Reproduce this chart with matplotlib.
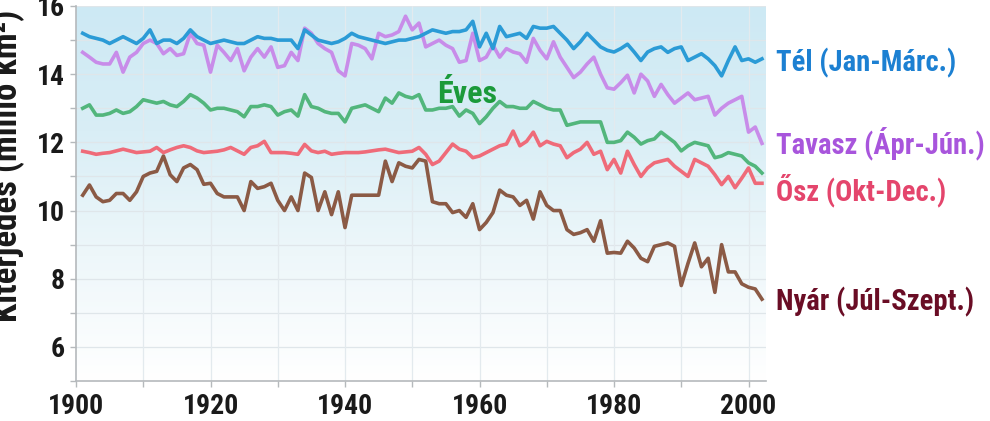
import numpy as np
import matplotlib
matplotlib.use("Agg")
import matplotlib.pyplot as plt
import matplotlib.font_manager as fm
from matplotlib.colors import LinearSegmentedColormap

years = np.arange(1901, 2003)

winter = [15.2, 15.1, 15.05, 15.0, 14.9, 15.0, 15.1, 15.0, 14.9, 15.05,
          15.3, 14.9, 15.0, 15.0, 14.9, 15.05, 15.3, 15.1, 15.0, 14.9,
          14.95, 15.0, 14.95, 14.9, 14.9, 15.0, 15.1, 15.05, 15.05, 15.0,
          15.0, 15.0, 14.75, 15.3, 15.15, 15.0, 14.95, 14.9, 14.95, 15.05,
          15.2, 15.1, 15.05, 15.0, 14.95, 14.9, 14.95, 15.0, 15.0, 15.05,
          15.1, 15.2, 15.3, 15.25, 15.2, 15.25, 15.25, 15.3, 15.55, 14.8,
          15.2, 14.75, 15.4, 15.1, 15.15, 15.2, 15.05, 15.4, 15.35, 15.35,
          15.4, 15.2, 15.0, 14.75, 14.95, 15.2, 15.0, 14.8, 14.7, 14.65,
          14.75, 14.88, 14.65, 14.4, 14.65, 14.75, 14.8, 14.64, 14.75, 14.8,
          14.4, 14.5, 14.6, 14.45, 14.25, 13.95, 14.4, 14.8, 14.4, 14.45,
          14.35, 14.45]

spring = [14.64, 14.5, 14.35, 14.3, 14.3, 14.64, 14.06, 14.5, 14.64, 14.9,
          15.0, 14.9, 14.6, 14.75, 14.55, 14.6, 15.2, 14.9, 14.85, 14.06,
          14.85, 14.64, 14.4, 14.75, 14.1, 14.5, 14.75, 14.5, 14.8, 14.2,
          14.25, 14.64, 14.4, 15.35, 15.2, 14.9, 14.75, 14.64, 14.1, 13.95,
          14.9, 14.85, 14.75, 14.45, 15.2, 15.1, 15.15, 15.25, 15.7, 15.3,
          15.5, 14.8, 14.9, 15.0, 14.85, 14.75, 14.35, 14.4, 15.2, 14.4,
          14.5, 14.85, 14.5, 14.75, 14.65, 14.6, 14.35, 15.05, 14.7, 14.45,
          14.95, 14.5, 14.2, 13.9, 14.06, 14.3, 14.5, 14.0, 13.6, 13.56,
          13.75, 13.97, 13.45, 14.0, 13.8, 13.35, 13.7, 13.4, 13.15, 13.3,
          13.45, 13.25, 13.3, 13.35, 12.8, 13.0, 13.15, 13.25, 13.35, 12.3,
          12.45, 11.97]

annual = [13.0, 13.1, 12.8, 12.8, 12.85, 12.95, 12.85, 12.9, 13.05, 13.25,
          13.2, 13.15, 13.2, 13.1, 13.05, 13.2, 13.4, 13.3, 13.15, 12.95,
          13.0, 13.0, 12.95, 12.9, 12.75, 13.05, 13.05, 13.1, 13.05, 12.8,
          12.9, 12.95, 12.77, 13.4, 13.05, 13.0, 12.9, 12.85, 12.85, 12.6,
          13.0, 13.05, 13.1, 13.0, 12.9, 13.3, 13.15, 13.45, 13.35, 13.3,
          13.4, 12.95, 12.95, 13.0, 13.0, 13.05, 12.77, 12.95, 12.85, 12.55,
          12.75, 13.0, 13.2, 13.05, 13.05, 13.0, 13.0, 13.2, 13.1, 13.0,
          12.95, 12.95, 12.5, 12.55, 12.6, 12.6, 12.6, 12.6, 12.0, 12.0,
          12.05, 12.3, 12.15, 11.95, 12.05, 12.1, 12.3, 12.15, 12.0, 11.75,
          11.9, 12.0, 11.95, 11.9, 11.55, 11.6, 11.7, 11.65, 11.6, 11.4,
          11.3, 11.1]

autumn = [11.74, 11.7, 11.65, 11.68, 11.7, 11.75, 11.8, 11.75, 11.7, 11.72,
          11.74, 11.85, 11.7, 11.78, 11.85, 11.9, 11.85, 11.75, 11.7, 11.72,
          11.74, 11.78, 11.85, 11.75, 11.65, 11.85, 11.9, 12.03, 11.7, 11.7,
          11.7, 11.68, 11.65, 11.94, 11.75, 11.7, 11.74, 11.65, 11.68, 11.7,
          11.7, 11.7, 11.72, 11.75, 11.78, 11.8, 11.75, 11.7, 11.72, 11.74,
          11.85, 11.65, 11.35, 11.45, 11.7, 11.95, 11.8, 11.74, 11.55, 11.6,
          11.7, 11.8, 11.9, 11.95, 12.33, 11.9, 12.03, 12.3, 11.9, 12.03,
          11.95, 11.9, 11.55, 11.7, 11.8, 12.0, 11.65, 11.74, 11.2, 11.5,
          11.1, 11.74, 11.35, 11.0, 11.25, 11.4, 11.45, 11.5, 11.3, 11.15,
          11.0, 11.5, 11.4, 11.3, 11.05, 10.76, 11.0, 10.67, 10.95, 11.25,
          10.8, 10.8]

summer = [10.45, 10.75, 10.4, 10.26, 10.3, 10.5, 10.5, 10.3, 10.55, 11.0,
          11.1, 11.15, 11.6, 11.05, 10.85, 11.25, 11.35, 11.2, 10.77, 10.8,
          10.5, 10.4, 10.4, 10.4, 10.0, 10.85, 10.65, 10.7, 10.8, 10.3,
          10.0, 10.4, 10.0, 11.1, 10.97, 10.0, 10.55, 9.88, 10.55, 9.5,
          10.45, 10.45, 10.45, 10.45, 10.45, 11.45, 10.85, 11.4, 11.3, 11.25,
          11.5, 11.45, 10.26, 10.2, 10.2, 9.94, 10.0, 9.8, 10.2, 9.44,
          9.65, 9.94, 10.6, 10.45, 10.4, 10.15, 10.3, 9.75, 10.55, 10.15,
          10.0, 10.0, 9.44, 9.3, 9.35, 9.44, 9.1, 9.7, 8.75, 8.77,
          8.75, 9.1, 8.9, 8.6, 8.5, 8.95, 9.0, 9.05, 8.95, 7.8,
          8.45, 9.05, 8.35, 8.6, 7.6, 9.0, 8.2, 8.2, 7.85, 7.75,
          7.7, 7.4]

series_labels = ["Tél (Jan-Márc.)", "Tavasz (Ápr-Jún.)", "Ősz (Okt-Dec.)", "Nyár (Júl-Szept.)"]
annual_label = "Éves"
ylabel = "Kiterjedés (millió km²)"
xticks = [1900, 1920, 1940, 1960, 1980, 2000]
yticks = [6, 8, 10, 12, 14, 16]


# ---- pick a narrow / condensed bold font if one is installed ----
def pick_font():
    best = None
    best_score = -1
    for f in fm.fontManager.ttflist:
        nm = f.name.lower()
        fn = f.fname.lower()
        st = str(f.stretch).lower()
        narrow = ("narrow" in nm or "condensed" in nm or "narrow" in fn
                  or "condensed" in fn or "condensed" in st)
        if not narrow:
            continue
        if "semicondensed" in fn or "semi" in st:
            continue
        if "extracondensed" in fn or "extra" in st or "ultra" in st:
            continue
        w = f.weight
        try:
            w = int(w)
        except Exception:
            w = 700 if "bold" in str(w).lower() else 400
        bold = (w >= 700 or "bold" in fn) and "extrabold" not in fn and "semibold" not in fn
        if "italic" in fn or f.style != "normal":
            continue
        score = 10 if bold else 1
        if "liberation" in nm or "arial" in nm:
            score += 5
        elif "roboto" in nm:
            score += 4
        elif "noto" in nm or "open" in nm:
            score += 3
        if score > best_score:
            best_score = score
            best = f
    if best is not None:
        return fm.FontProperties(fname=best.fname, weight="bold"), True
    return fm.FontProperties(family=["Liberation Sans", "DejaVu Sans"], weight="bold"), False


FP, IS_NARROW = pick_font()
plt.rcParams['font.family'] = ["Liberation Sans", "DejaVu Sans"]

fig = plt.figure(figsize=(9.9, 4.21), dpi=100)
ax = fig.add_axes([76/990, 1-381/421, (766-76)/990, (381-6)/421])
renderer = fig.canvas.get_renderer()


def fit_size(text, target_w, max_size):
    t = fig.text(0, 0, text, fontproperties=FP, fontsize=20)
    w = t.get_window_extent(renderer).width
    t.remove()
    return min(max_size, 20 * target_w / w)


xmin, xmax = 1900, 2002.6
ymin, ymax = 5, 16

# gradient background
cmap = LinearSegmentedColormap.from_list("bg", ["#ffffff", "#eef7fa", "#d9eef6", "#cde9f4"])
grad = np.linspace(0, 1, 256).reshape(-1, 1)
ax.imshow(grad, extent=[xmin, xmax, ymin, ymax], origin="lower", aspect="auto",
          cmap=cmap, zorder=0, interpolation="bilinear")

# grid
for yv in range(6, 17):
    ax.axhline(yv, color="#dfe6ea", lw=0.9, zorder=1)
for xv in range(1910, 2001, 10):
    ax.axvline(xv, color="#e3eaee", lw=0.9, zorder=1)

lw = 2.6
ax.plot(years, summer, color="#8b5a45", lw=lw, zorder=3, solid_joinstyle="round")
ax.plot(years, autumn, color="#ef6b79", lw=lw, zorder=3, solid_joinstyle="round")
ax.plot(years, annual, color="#52b67c", lw=lw, zorder=3, solid_joinstyle="round")
ax.plot(years, spring, color="#c88ce9", lw=lw, zorder=3, solid_joinstyle="round")
ax.plot(years, winter, color="#2b9bd6", lw=lw, zorder=4, solid_joinstyle="round")

ax.set_xlim(xmin, xmax)
ax.set_ylim(ymin, ymax)
ax.set_xticks(xticks)
ax.set_xticks(range(1900, 2001, 10), minor=True)
ax.set_yticks(yticks)
ax.set_yticks(range(5, 17), minor=True)
for s in ["top", "right"]:
    ax.spines[s].set_visible(False)
for s in ["left", "bottom"]:
    ax.spines[s].set_color("#b5b9bc")
    ax.spines[s].set_linewidth(1.2)
ax.tick_params(axis="both", which="both", color="#b5b9bc", width=1.0, length=4)
ax.tick_params(axis="x", which="major", pad=5)
ax.tick_params(axis="y", which="major", pad=4)

tick_size = fit_size("1900", 56, 24)
for lab in ax.get_xticklabels() + ax.get_yticklabels():
    lab.set_fontproperties(FP)
    lab.set_fontsize(tick_size)
    lab.set_color("#1a1a1a")

ylab_size = fit_size(ylabel, 335, 25)
fig.text(25/990, 1-166/421, ylabel, rotation=90, ha="right", va="center",
         fontproperties=FP, fontsize=ylab_size, color="#1a1a1a")

label_specs = [
    (series_labels[0], 180, 63, "#1c80d2"),
    (series_labels[1], 212, 143, "#a855dc"),
    (series_labels[2], 177, 190, "#e4456c"),
    (series_labels[3], 200, 302, "#6a0d25"),
]
lab_size = min(fit_size(t, w, 23) for t, w, _, _ in label_specs)
for t, w, ypix, col in label_specs:
    fig.text(776/990, 1-ypix/421, t, color=col, fontproperties=FP,
             fontsize=lab_size, va="center", ha="left")

ax.text(1958.2, 13.42, annual_label, color="#1b9a3a", fontproperties=FP,
        fontsize=fit_size(annual_label, 64, 23), ha="center", va="center", zorder=5)

fig.savefig("out.png", dpi=100)
